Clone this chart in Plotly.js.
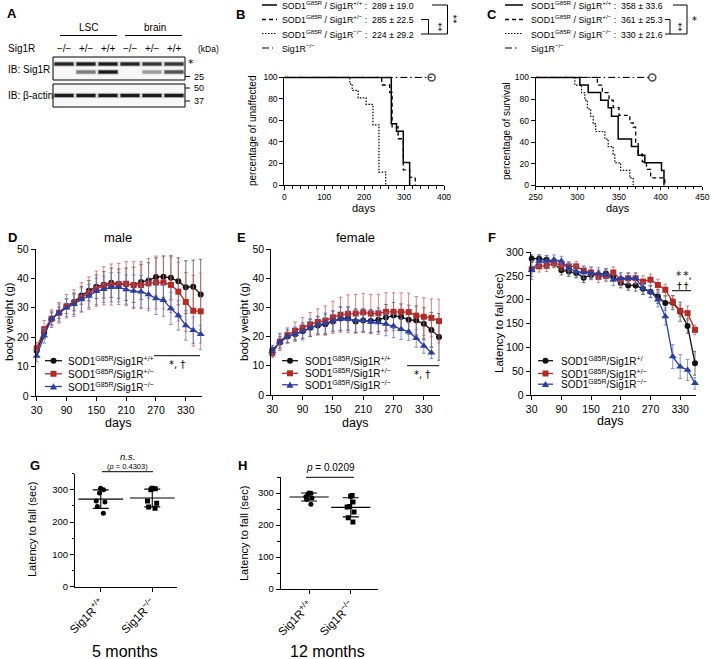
<!DOCTYPE html>
<html><head><meta charset="utf-8">
<script src="https://cdn.plot.ly/plotly-3.0.1.min.js"></script>
<style>html,body{margin:0;padding:0;background:#fff}#chart{width:712px;height:659px}</style>
</head><body><div id="chart"></div>
<script>
// ---------------- DATA ----------------
// Panel A (western blot band intensities per lane)
const lanes = ['−/−','+/−','+/+','−/−','+/−','+/+'];
const sig1rUpper = [0.95,1,1,0.95,0.85,0.85];
const sig1rLower = [0,0.5,1,0,0.35,0.7];
const actinBand = [1,1,1,1,1,1];
const genos = ['+/+','+/−','−/−'];

// Panel B (onset, Kaplan-Meier steps)
const B_wt_days = [0,268,281,298,314];           const B_wt_pct = [100,57,50,21,0];
const B_het_days = [0,244,264,270,285,298,314,328]; const B_het_pct = [100,93,86,54,43,14,7,0];
const B_ko_days = [0,164,170,185,205,222,237,254];  const B_ko_pct = [100,94,88,81,75,56,12,0];
const B_sig_days = [0,369];                      const B_sig_pct = [100,100];
const B_mean = [289,285,224]; const B_sd = [19.0,22.5,29.2];

// Panel C (survival)
const C_wt_days = [250,303,313,328,337,341,349,365,373,381,401,404];
const C_wt_pct  = [100,93,86,79,72,64,43,36,28,21,14,0];
const C_het_days = [250,324,330,338,343,350,363,367,370,373,378,383,388,405];
const C_het_pct  = [100,93,86,79,72,65,58,54,40,29,22,15,7,0];
const C_ko_days = [250,297,305,309,312,316,319,322,333,337,343,345,352,363,367];
const C_ko_pct  = [100,93,86,79,71,64,57,50,43,36,29,21,14,7,0];
const C_sig_days = [250,390]; const C_sig_pct = [100,100];
const C_mean = [358,361,330]; const C_sd = [33.6,25.3,21.6];

// Panels D/E/F (days)
const days = [30,45,60,75,90,105,120,135,150,165,180,195,210,225,240,255,270,285,300,315,330,345,360];
const daysKoE = [30,45,60,75,90,105,120,135,150,165,180,195,210,225,240,255,270,285,300,315,330,345];
// D male body weight
const male_wt  = [15.4,21.5,26.3,28.3,30.5,32.0,34.2,35.8,37.2,37.8,38.5,38.2,38.0,37.8,38.8,39.3,40.5,40.6,40.2,39.0,37.0,37.2,34.5];
const male_het = [16.2,22.7,26.3,28.3,30.5,31.6,33.5,35.0,36.5,37.5,37.9,38.1,38.2,37.7,37.7,38.3,38.6,38.6,37.8,35.5,32.0,29.0,28.8];
const male_ko  = [13.6,20.5,26.3,28.3,30.0,31.2,32.8,34.0,35.6,36.3,37.0,37.0,36.2,35.7,35.5,34.5,33.2,32.6,29.8,27.4,24.0,22.4,21.0];
const male_wt_err  = [1.5,2,2,2,2.5,3,3,3.5,4,4.5,5,5,5.5,6,6,6,6.5,7,7.5,8,9,9,12];
const male_het_err = [2,3,3,3.5,4,4.5,5,5.5,6,6.5,7,7,7.5,8,8,8.5,9,9,9.5,10,10,12,13];
const male_ko_err  = [2,2.5,2.5,3,3,3.5,4,4,4.5,4.5,5,5,5,5.5,5.5,5.5,5.5,5.5,5.5,5,5,4.5,3];
// E female body weight
const fem_wt  = [15.4,18.0,20.0,20.8,21.8,23.0,23.8,24.2,25.2,26.2,26.2,25.2,25.5,25.3,25.8,26.5,27.2,26.7,25.8,25.5,24.4,22.3,19.9];
const fem_het = [14.3,18.3,20.5,22.0,23.0,24.2,25.0,25.5,26.6,27.5,27.8,27.9,28.3,27.9,28.0,28.5,28.5,28.5,28.4,27.2,26.8,26.4,25.3];
const fem_ko  = [15.0,18.2,20.1,20.8,21.8,23.0,24.0,24.6,25.4,26.0,26.0,25.6,25.6,25.0,24.8,24.3,23.6,22.5,21.7,19.4,16.8,14.5];
const fem_wt_err  = [1.5,2,2,2,2.5,3,3,3.5,3.5,4,4,4,4,4,4,4.5,4.5,4.5,5,5,5.5,6,8];
const fem_het_err = [1.5,2.5,2.5,3,3.5,4,4.5,5,5.5,6,6.5,6.5,6.5,6.5,6.5,6.5,6.5,6.5,6.5,6.5,6.5,6.5,7.5];
const fem_ko_err  = [2,3,2.5,2.5,3,3,3,3.5,3.5,4,4,4,4,4,4,4,4,3.5,3,3,2.5,2];
// F rotarod latency
const rota_wt  = [286,286,284,276,262,259,256,246,252,252,255,249,235,230,230,223,217,207,193,194,175,145,67];
const rota_het = [264,270,271,277,272,270,270,261,257,248,250,257,242,245,245,238,242,231,221,196,177,172,137];
const rota_ko  = [262,281,281,284,281,266,259,257,256,255,253,242,245,245,245,224,217,200,165,81,60,53,25];
const rota_wt_err  = [8,8,8,8,10,10,10,10,10,10,10,10,10,10,12,12,12,15,15,15,20,15,25];
const rota_het_err = [15,12,12,10,10,10,10,10,12,12,12,12,12,12,12,12,12,12,12,12,12,15,10];
const rota_ko_err  = [20,12,12,10,10,12,12,12,12,12,12,12,12,10,10,12,12,15,18,25,25,22,12];

// G / H (latency to fall, individual mice)
const catLabels = ['Sig1R<sup>+/+</sup>','Sig1R<sup>−/−</sup>'];
const G_wt = [305,300,290,265,262,248,227];
const G_ko = [305,303,300,265,258,247,243];
const H_wt = [300,299,297,288,284,280,265];
const H_ko = [292,290,272,258,256,241,223,209];

// ---------------- HELPERS ----------------
const W = 712, H = 659;
const FONT = 'Liberation Sans, Arial, Helvetica, sans-serif';
const SYM = 'DejaVu Sans, Liberation Sans, sans-serif';
const fx = px => px / W, fy = py => 1 - py / H;
const domX = (a,b) => [a/W, b/W];
const domY = (top,bot) => [1 - bot/H, 1 - top/H];
const BLACK = '#111', RED = '#b22b26', BLUE = '#2b3f9e';
const ERRC = ['rgba(70,70,70,0.85)','rgba(205,95,95,0.85)','rgba(95,115,205,0.85)'];
const NB = '\u00A0';

const annotations = [];
const shapes = [];
function txt(text, px, py, size, opts){
  annotations.push(Object.assign({text, x:fx(px), y:fy(py), xref:'paper', yref:'paper', showarrow:false,
    xanchor:'center', yanchor:'middle', font:{family:FONT, size, color:'#000'}}, opts||{}));
}
function sym(text, px, py, size, opts){
  txt(text, px, py, size, Object.assign({font:{family:SYM, size, color:'#000'}}, opts||{}));
}
function seg(x0,y0,x1,y1,color,width,dash){
  shapes.push({type:'line', xref:'paper', yref:'paper', x0:fx(x0), y0:fy(y0), x1:fx(x1), y1:fy(y1),
    line:{color:color||'#000', width:width||1, dash:dash||'solid'}});
}
function rect(x0,y0,x1,y1,fill,lineColor,lw){
  shapes.push({type:'rect', xref:'paper', yref:'paper', x0:fx(x0), y0:fy(y0), x1:fx(x1), y1:fy(y1),
    fillcolor:fill, line:{color:lineColor||'rgba(0,0,0,0)', width:lw||0}});
}
function circ(cx,cy,r,fill){
  shapes.push({type:'circle', xref:'paper', yref:'paper', x0:fx(cx-r), y0:fy(cy+r), x1:fx(cx+r), y1:fy(cy-r),
    fillcolor:fill, line:{color:fill, width:0}});
}
function tri(cx,cy,s,fill){
  const p = `M${fx(cx-s)},${fy(cy+s*0.8)} L${fx(cx+s)},${fy(cy+s*0.8)} L${fx(cx)},${fy(cy-s*0.9)} Z`;
  shapes.push({type:'path', xref:'paper', yref:'paper', path:p, fillcolor:fill, line:{color:fill,width:0}});
}
function axisBase(o){
  return Object.assign({showgrid:false, zeroline:false, showline:true, linecolor:'#000', linewidth:1,
    ticks:'outside', ticklen:4, tickwidth:1, tickcolor:'#000', fixedrange:true,
    tickfont:{family:FONT, size:10, color:'#000'}}, o);
}
const mean = a => a.reduce((s,v)=>s+v,0)/a.length;
const sdev = a => { const m = mean(a); return Math.sqrt(a.reduce((s,v)=>s+(v-m)*(v-m),0)/(a.length-1)); };

// ---------------- PANEL A (blot) ----------------
txt('<b>A</b>', 12, 14, 13);
txt('LSC', 88, 28, 10); txt('brain', 155, 28, 10);
seg(60,35.5,117,35.5,'#000',1.2); seg(125,35.5,182,35.5,'#000',1.2);
txt('Sig1R', 6, 48, 10, {xanchor:'left'});
const blotL = 53, blotR = 185, laneW = (blotR-blotL)/lanes.length;
lanes.forEach((g,i)=> txt(g, blotL + laneW*(i+0.5), 48, 10));
txt('(kDa)', 208, 49, 8.5);
txt('IB: Sig1R', 6, 69, 10, {xanchor:'left'});
txt('IB: β-actin', 6, 95, 10, {xanchor:'left'});
rect(blotL,57,blotR,80,'#f7f7f7','#000',1);
rect(blotL,84,blotR,107,'#f7f7f7','#000',1);
function bands(vals, yc){
  vals.forEach((v,i)=>{
    if(v<=0) return;
    const c = blotL + laneW*(i+0.5);
    rect(c-10.5,yc-2.6,c+10.5,yc+2.6,`rgba(0,0,0,${(v*0.25).toFixed(3)})`);
    rect(c-9.5,yc-1.6,c+9.5,yc+1.6,`rgba(10,10,10,${(v*0.9).toFixed(3)})`);
  });
}
bands(sig1rUpper, 64); bands(sig1rLower, 72); bands(actinBand, 95.5);
sym('*', 191, 63, 11);
seg(185,76.5,190,76.5,'#000',1); txt('25', 199, 77, 9);
seg(185,88,190,88,'#000',1); txt('50', 199, 88, 9);
seg(185,101,190,101,'#000',1); txt('37', 199, 101, 9);

// ---------------- B / C legends ----------------
const survStyles = [
  {dash:'solid', width:1.5},
  {dash:'4px,3px', width:1.3},
  {dash:'1.5px,1.5px', width:1.2},
  {dash:'7px,3px,1.5px,3px', width:1.2}
];
const rowsY = [5,19.5,33.5,48];
function survLegend(lx0,lx1,tx,means,sds){
  genos.forEach((g,i)=>{
    seg(lx0,rowsY[i],lx1,rowsY[i],'#000',survStyles[i].width,survStyles[i].dash);
    txt(`SOD1<sup>G85R</sup> / Sig1R<sup>${g}</sup> :${NB}${NB}${means[i]} ± ${sds[i].toFixed(1)}`, tx, rowsY[i], 8.8, {xanchor:'left'});
  });
  seg(lx0,rowsY[3],lx1-4,rowsY[3],'#000',survStyles[3].width,survStyles[3].dash);
  txt('Sig1R<sup>−/−</sup>', tx, rowsY[3], 8.8, {xanchor:'left'});
}
txt('<b>B</b>', 240, 15, 13);
survLegend(262,277,279.5,B_mean,B_sd);
// brackets B
seg(421,19.5,428.5,19.5); seg(428.5,19.5,428.5,34); seg(421,34,428.5,34);
seg(432,5,447.5,5); seg(447.5,5,447.5,34); seg(428.5,34,447.5,34);
sym('**', 437.5, 27, 9, {textangle:90});
sym('**', 452.5, 20, 9, {textangle:90});
txt('percentage of unaffected', 252, 131, 10, {textangle:-90});
txt('days', 364, 208, 11);

txt('<b>C</b>', 492, 15, 13);
survLegend(505,523,528.5,C_mean,C_sd);
seg(665,19.5,670,19.5); seg(670,19.5,670,34); seg(665,34,670,34);
seg(673,5,687,5); seg(687,5,687,34); seg(670,34,687,34);
sym('**', 677.5, 27, 9, {textangle:90});
sym('*', 694, 21, 10);
txt('percentage of survival', 506, 131, 10, {textangle:-90});
txt('days', 618, 208, 11);

// ---------------- D / E / F labels & legends ----------------
const seriesStyle = [
  {color:BLACK, symbol:'circle', size:6},
  {color:RED, symbol:'square', size:6},
  {color:BLUE, symbol:'triangle-up', size:7}
];
function lineLegend(x0,x1,tx,ys,texts){
  ys.forEach((y,i)=>{
    const c = seriesStyle[i].color, m = (x0+x1)/2;
    seg(x0,y,x1,y,c,1.3);
    if(i===0) circ(m,y,3,c);
    else if(i===1) rect(m-3,y-3,m+3,y+3,c);
    else tri(m,y,3.6,c);
    txt(texts[i], tx, y, 10, {xanchor:'left'});
  });
}
const legTexts = genos.map(g=>`SOD1<sup>G85R</sup>/Sig1R<sup>${g}</sup>`);
txt('<b>D</b>', 12, 237, 13);
txt('male', 118, 237, 13);
txt('body weight (g)', 9, 322, 11.5, {textangle:-90});
txt('days', 118, 423, 12.5);
seg(154,355.7,200,355.7,'#000',1);
sym('*, †', 177, 364, 10);
lineLegend(45,62,66,[360.7,373.8,386.5],legTexts);

txt('<b>E</b>', 241, 237, 13);
txt('female', 355, 237, 13);
txt('body weight (g)', 244, 322, 11.5, {textangle:-90});
txt('days', 355, 423, 12.5);
seg(407,365.7,439,365.7,'#000',1);
sym('*, †', 422, 374, 10);
lineLegend(282,298,302.5,[360.7,373.3,384.8],legTexts);

txt('<b>F</b>', 492, 237, 13);
txt('Latency to fall (sec)', 499, 323, 11.5, {textangle:-90});
txt('days', 610, 421, 12.5);
sym('*\u2009*,', 684, 275, 10.5);
sym('†\u2009†', 683, 285, 9.5);
seg(672,290.7,691,290.7,'#000',1);
lineLegend(538,553,559,[360.7,373.5,384.2],
  ['SOD1<sup>G85R</sup>/Sig1R<sup>+/</sup>', legTexts[1], legTexts[2]]);

// ---------------- G / H labels ----------------
txt('<b>G</b>', 35, 465, 13);
txt('<i>n.s.</i>', 127, 456.5, 9.5);
txt('(<i>p</i> = 0.4303)', 127, 466, 7.5);
seg(102,471.7,153,471.7,'#000',1);
txt('Latency to fall (sec)', 32, 530, 11, {textangle:-90});
txt('5 months', 125, 651, 16);

txt('<b>H</b>', 242, 465, 13);
txt('<i>p</i> = 0.0209', 330, 467, 10);
seg(306,477.3,354,477.3,'#000',1);
txt('Latency to fall (sec)', 244, 534, 11, {textangle:-90});
txt('12 months', 327, 651, 16);

// ---------------- TRACES ----------------
const traces = [];
function survTrace(xs,ys,i,xa,ya,open){
  const t = {type:'scatter', mode: open ? 'lines+markers' : 'lines', x:xs, y:ys, xaxis:xa, yaxis:ya,
    line:{shape:'hv', color:'#000', width:survStyles[i].width, dash:survStyles[i].dash},
    showlegend:false, hoverinfo:'skip', cliponaxis:false};
  if(open) t.marker = {symbol:'circle-open', color:'#000', size: xs.map((v,k)=> k===xs.length-1 ? 7 : 0), line:{width:1.5,color:'#000'}};
  traces.push(t);
}
survTrace(B_wt_days,B_wt_pct,0,'x','y');
survTrace(B_het_days,B_het_pct,1,'x','y');
survTrace(B_ko_days,B_ko_pct,2,'x','y');
survTrace(B_sig_days,B_sig_pct,3,'x','y',true);
survTrace(C_wt_days,C_wt_pct,0,'x2','y2');
survTrace(C_het_days,C_het_pct,1,'x2','y2');
survTrace(C_ko_days,C_ko_pct,2,'x2','y2');
survTrace(C_sig_days,C_sig_pct,3,'x2','y2',true);

function lineTrace(xs,ys,err,i,ax){
  const s = seriesStyle[i];
  traces.push({type:'scatter', mode:'lines+markers', x:xs, y:ys, xaxis:'x'+ax, yaxis:'y'+ax,
    line:{color:s.color, width:1.3}, marker:{symbol:s.symbol, size:s.size, color:s.color},
    error_y:{type:'data', array:err, visible:true, color:ERRC[i], thickness:0.9, width:1.8},
    showlegend:false, hoverinfo:'skip', cliponaxis:false});
}
lineTrace(days,male_wt,male_wt_err,0,'3');
lineTrace(days,male_het,male_het_err,1,'3');
lineTrace(days,male_ko,male_ko_err,2,'3');
lineTrace(days,fem_wt,fem_wt_err,0,'4');
lineTrace(days,fem_het,fem_het_err,1,'4');
lineTrace(daysKoE,fem_ko,fem_ko_err,2,'4');
lineTrace(days,rota_wt,rota_wt_err,0,'5');
lineTrace(days,rota_het,rota_het_err,1,'5');
lineTrace(days,rota_ko,rota_ko_err,2,'5');

function dotGroup(vals,cat,symbol,ax){
  traces.push({type:'box', x:vals.map(()=>cat), y:vals, xaxis:'x'+ax, yaxis:'y'+ax,
    boxpoints:'all', jitter:0.45, pointpos:0, marker:{symbol, size:5, color:'#000'},
    line:{width:0, color:'rgba(0,0,0,0)'}, fillcolor:'rgba(0,0,0,0)', whiskerwidth:0,
    showlegend:false, hoverinfo:'skip'});
}
function meanSd(groups,ax,wide){
  traces.push({type:'scatter', mode:'markers', x:catLabels, y:groups.map(mean), xaxis:'x'+ax, yaxis:'y'+ax,
    marker:{symbol:'line-ew', size:wide, color:'#000', line:{width:1.2,color:'#000'}},
    error_y:{type:'data', array:groups.map(sdev), visible:true, color:'#000', thickness:1.1, width:8},
    showlegend:false, hoverinfo:'skip', cliponaxis:false});
}
dotGroup(G_wt,catLabels[0],'circle','6');
dotGroup(G_ko,catLabels[1],'square','6');
meanSd([G_wt,G_ko],'6',32);
dotGroup(H_wt,catLabels[0],'circle','7');
dotGroup(H_ko,catLabels[1],'square','7');
meanSd([H_wt,H_ko],'7',28);

// ---------------- LAYOUT ----------------
const small = {family:FONT, size:8.5, color:'#000'};
const mid = {family:FONT, size:10.5, color:'#000'};
const layout = {
  width:W, height:H, margin:{l:0,r:0,t:0,b:0}, paper_bgcolor:'#fff', plot_bgcolor:'rgba(0,0,0,0)',
  showlegend:false, boxmode:'overlay', font:{family:FONT, color:'#000'},
  xaxis: axisBase({domain:domX(284.3,444), range:[0,400], tickvals:[0,100,200,300,400], tickfont:small, anchor:'y', ticklen:3.5,
    minor:{ticks:'outside', ticklen:2.5, tickcolor:'#000', dtick:20, tick0:0}}),
  yaxis: axisBase({domain:domY(76.6,185), range:[0,100.8], tickvals:[0,20,40,60,80,100], tickfont:small, anchor:'x'}),
  xaxis2: axisBase({domain:domX(535.7,702.3), range:[250,450], tickvals:[250,300,350,400,450], tickfont:small, anchor:'y2', ticklen:3.5,
    minor:{ticks:'outside', ticklen:2.5, tickcolor:'#000', dtick:10, tick0:250}}),
  yaxis2: axisBase({domain:domY(76.6,185.5), range:[0,100.8], tickvals:[0,20,40,60,80,100], tickfont:small, anchor:'x2'}),
  xaxis3: axisBase({domain:domX(35.7,201.7), range:[28,362], tickvals:[30,90,150,210,270,330], tickfont:mid, anchor:'y3'}),
  yaxis3: axisBase({domain:domY(249,396), range:[0,50], tickvals:[0,10,20,30,40,50], tickfont:mid, anchor:'x3'}),
  xaxis4: axisBase({domain:domX(271.3,440), range:[28,362], tickvals:[30,90,150,210,270,330], tickfont:mid, anchor:'y4'}),
  yaxis4: axisBase({domain:domY(249,395), range:[0,50], tickvals:[0,10,20,30,40,50], tickfont:mid, anchor:'x4'}),
  xaxis5: axisBase({domain:domX(530.7,696), range:[28,362], tickvals:[30,90,150,210,270,330], tickfont:mid, anchor:'y5'}),
  yaxis5: axisBase({domain:domY(252,395.3), range:[0,300], tickvals:[0,50,100,150,200,250,300], tickfont:mid, anchor:'x5'}),
  xaxis6: axisBase({domain:domX(75,177), type:'category', categoryorder:'array', categoryarray:catLabels,
    range:[-0.5,1.48], tickangle:-45, tickfont:{family:FONT,size:11.5,color:'#000'}, anchor:'y6'}),
  yaxis6: axisBase({domain:domY(473.6,586.7), range:[0,350], tickvals:[0,100,200,300], tickfont:{family:FONT,size:9.5,color:'#000'}, anchor:'x6',
    minor:{ticks:'outside', ticklen:2.5, tickcolor:'#000', dtick:50, tick0:0}}),
  xaxis7: axisBase({domain:domX(280.7,378.3), type:'category', categoryorder:'array', categoryarray:catLabels,
    range:[-0.68,1.66], tickangle:-45, tickfont:{family:FONT,size:11.5,color:'#000'}, anchor:'y7'}),
  yaxis7: axisBase({domain:domY(477,589), range:[0,350], tickvals:[0,100,200,300], tickfont:{family:FONT,size:9.5,color:'#000'}, anchor:'x7',
    minor:{ticks:'outside', ticklen:2.5, tickcolor:'#000', dtick:50, tick0:0}}),
  annotations, shapes
};
Plotly.newPlot('chart', traces, layout, {staticPlot:true, displayModeBar:false});
</script></body></html>
